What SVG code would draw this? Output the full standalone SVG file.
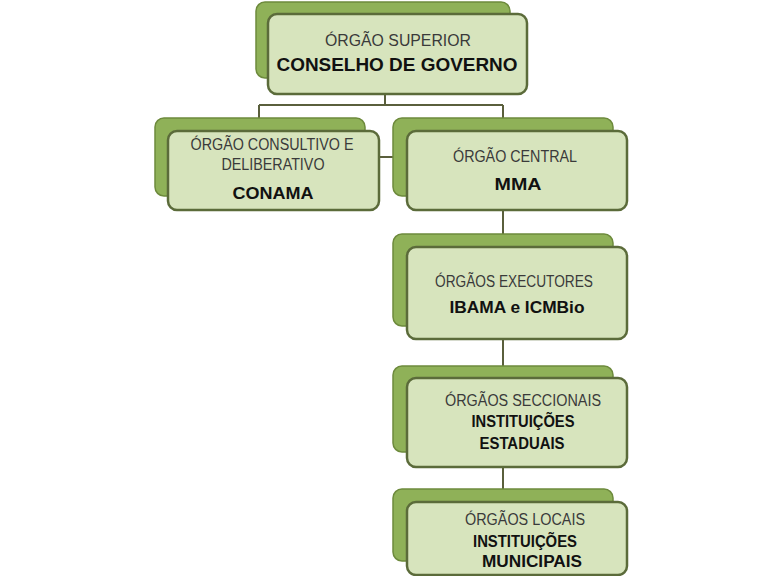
<svg xmlns="http://www.w3.org/2000/svg" width="768" height="576" viewBox="0 0 768 576">
<style>
.back{fill:#8fb158;stroke:#6d8a3c;stroke-width:1.5}
.front{fill:#d7e4bd;stroke:#5b6b3a;stroke-width:2.5}
.reg{font-family:"Liberation Sans",Arial,sans-serif;font-size:16px;fill:#3a3a3a;text-anchor:middle}
.bold{font-family:"Liberation Sans",Arial,sans-serif;font-weight:bold;fill:#111;text-anchor:middle}
.conn{stroke:#5a5f3c;stroke-width:2;fill:none}
</style>
<rect width="768" height="576" fill="#ffffff"/>
<g id="connectors">
<path class="conn" d="M385,95 V105 M259,105 H503 M259,105 V118 M503,105 V118 M379,157 H407 M503,210 V234 M503,339 V366 M503,467 V489"/>
</g>
<g id="node-superior">
<rect class="back" x="256" y="2" width="254" height="76" rx="9"/>
<rect class="front" x="268" y="14" width="259" height="80" rx="9"/>
<text class="reg" x="398" y="46" textLength="146" lengthAdjust="spacingAndGlyphs">ÓRGÃO SUPERIOR</text>
<text class="bold" x="397" y="71" font-size="19" textLength="241" lengthAdjust="spacingAndGlyphs">CONSELHO DE GOVERNO</text>
</g>
<g id="node-conama">
<rect class="back" x="155" y="118" width="210" height="78" rx="9"/>
<rect class="front" x="168" y="131" width="211" height="79" rx="9"/>
<text class="reg" x="272" y="150" textLength="163" lengthAdjust="spacingAndGlyphs">ÓRGÃO CONSULTIVO E</text>
<text class="reg" x="273" y="170" textLength="103" lengthAdjust="spacingAndGlyphs">DELIBERATIVO</text>
<text class="bold" x="273" y="199" font-size="17" textLength="81" lengthAdjust="spacingAndGlyphs">CONAMA</text>
</g>
<g id="node-mma">
<rect class="back" x="393" y="118" width="220" height="78" rx="9"/>
<rect class="front" x="407" y="131" width="220" height="79" rx="9"/>
<text class="reg" x="515" y="162" textLength="124" lengthAdjust="spacingAndGlyphs">ÓRGÃO CENTRAL</text>
<text class="bold" x="518" y="190" font-size="17" textLength="47" lengthAdjust="spacingAndGlyphs">MMA</text>
</g>
<g id="node-executores">
<rect class="back" x="393" y="234" width="220" height="92" rx="9"/>
<rect class="front" x="407" y="247" width="220" height="92" rx="9"/>
<text class="reg" x="514" y="287" textLength="158" lengthAdjust="spacingAndGlyphs">ÓRGÃOS EXECUTORES</text>
<text class="bold" x="517" y="313" font-size="17" textLength="135" lengthAdjust="spacingAndGlyphs">IBAMA e ICMBio</text>
</g>
<g id="node-seccionais">
<rect class="back" x="393" y="366" width="220" height="86" rx="9"/>
<rect class="front" x="407" y="378" width="220" height="89" rx="9"/>
<text class="reg" x="523" y="406" textLength="156" lengthAdjust="spacingAndGlyphs">ÓRGÃOS SECCIONAIS</text>
<text class="bold" x="523" y="427" font-size="16" textLength="103" lengthAdjust="spacingAndGlyphs">INSTITUIÇÕES</text>
<text class="bold" x="522" y="449" font-size="16" textLength="85" lengthAdjust="spacingAndGlyphs">ESTADUAIS</text>
</g>
<g id="node-locais">
<rect class="back" x="393" y="489" width="220" height="72" rx="9"/>
<rect class="front" x="407" y="502" width="220" height="73" rx="9"/>
<text class="reg" x="525" y="525" textLength="120" lengthAdjust="spacingAndGlyphs">ÓRGÃOS LOCAIS</text>
<text class="bold" x="525" y="547" font-size="16" textLength="104" lengthAdjust="spacingAndGlyphs">INSTITUIÇÕES</text>
<text class="bold" x="532" y="567" font-size="16" textLength="100" lengthAdjust="spacingAndGlyphs">MUNICIPAIS</text>
</g>
</svg>
